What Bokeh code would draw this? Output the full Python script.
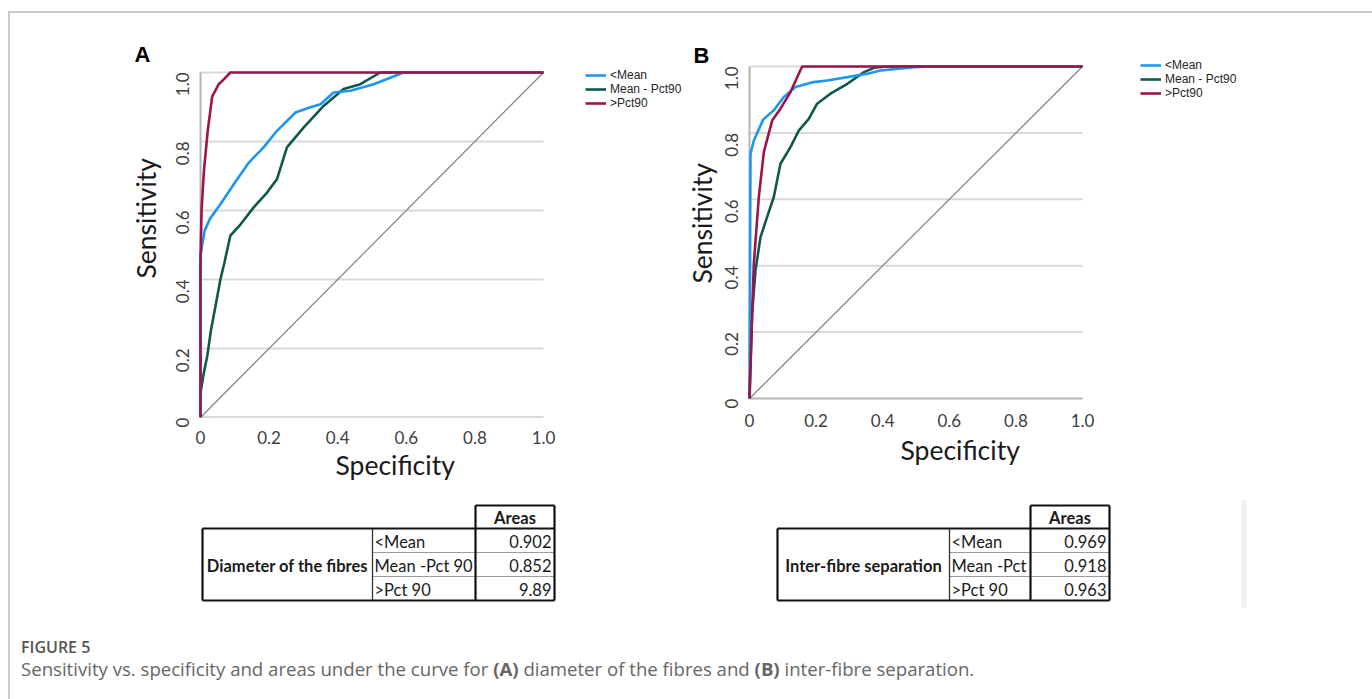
import math
from bokeh.plotting import figure
from bokeh.models import (Range1d, FixedTicker, Legend, LegendItem, Div, Title,
                          ColumnDataSource, CustomJSTickFormatter)
from bokeh.layouts import column, row
from bokeh.embed import file_html
from bokeh.resources import INLINE
from bokeh.core.properties import value

# ---------------- data ----------------
# Panel A : diameter of the fibres
a_mean_x = [0.0, 0.0, 0.012, 0.027, 0.058, 0.097, 0.141, 0.184, 0.223, 0.277, 0.32, 0.35, 0.388, 0.437, 0.505, 0.544, 0.592, 1.0]
a_mean_y = [0.0, 0.47, 0.541, 0.575, 0.618, 0.676, 0.739, 0.783, 0.831, 0.884, 0.899, 0.908, 0.942, 0.947, 0.966, 0.981, 1.0, 1.0]
a_mid_x = [0.0, 0.0, 0.008, 0.02, 0.03, 0.045, 0.058, 0.07, 0.087, 0.117, 0.155, 0.194, 0.223, 0.252, 0.301, 0.359, 0.417, 0.466, 0.524, 1.0]
a_mid_y = [0.0, 0.07, 0.12, 0.18, 0.25, 0.33, 0.40, 0.45, 0.527, 0.56, 0.609, 0.652, 0.691, 0.783, 0.841, 0.903, 0.952, 0.966, 1.0, 1.0]
a_high_x = [0.0, 0.0, 0.003, 0.01, 0.021, 0.034, 0.053, 0.068, 0.087, 1.0]
a_high_y = [0.0, 0.45, 0.6, 0.715, 0.83, 0.93, 0.966, 0.98, 1.0, 1.0]

# Panel B : inter-fibre separation
b_mean_x = [0.0, 0.003, 0.013, 0.041, 0.073, 0.103, 0.138, 0.193, 0.233, 0.294, 0.354, 0.394, 0.494, 0.545, 1.0]
b_mean_y = [0.0, 0.737, 0.777, 0.84, 0.868, 0.908, 0.938, 0.953, 0.958, 0.968, 0.978, 0.988, 0.998, 1.0, 1.0]
b_mid_x = [0.0, 0.008, 0.018, 0.033, 0.053, 0.073, 0.093, 0.123, 0.148, 0.178, 0.203, 0.243, 0.294, 0.344, 0.374, 0.414, 1.0]
b_mid_y = [0.0, 0.256, 0.386, 0.486, 0.547, 0.607, 0.707, 0.757, 0.807, 0.842, 0.888, 0.918, 0.948, 0.983, 0.996, 1.0, 1.0]
b_high_x = [0.0, 0.006, 0.013, 0.028, 0.043, 0.068, 0.093, 0.123, 0.158, 1.0]
b_high_y = [0.0, 0.2, 0.406, 0.607, 0.742, 0.837, 0.873, 0.923, 1.0, 1.0]

ref_x = [0.0, 1.0]
ref_y = [0.0, 1.0]

ticks = [0, 0.2, 0.4, 0.6, 0.8, 1.0]
legend_labels = ["<Mean", "Mean - Pct90", ">Pct90"]
series_colors = ["#1E96F0", "#10584C", "#9E134C"]
x_title = "Specificity"
y_title = "Sensitivity"

table_header = "Areas"
table_a_title = "Diameter of the fibres"
table_a_rows = ["<Mean", "Mean -Pct 90", ">Pct 90"]
table_a_values = ["0.902", "0.852", "9.89"]
table_b_title = "Inter-fibre separation"
table_b_rows = ["<Mean", "Mean -Pct", ">Pct 90"]
table_b_values = ["0.969", "0.918", "0.963"]

caption_title = "FIGURE 5"
caption_text = ("Sensitivity vs. specificity and areas under the curve for <b>(A)</b> "
                "diameter of the fibres and <b>(B)</b> inter-fibre separation.")

FONT = "Lato"
TOP_BORDER, BOTTOM_BORDER = 57, 73


def make_panel(width, left_border, xr, yr, curves, letter, cfg):
    p = figure(width=width, height=490, x_range=Range1d(*xr), y_range=Range1d(*yr),
               output_backend="svg", toolbar_location=None,
               min_border_left=left_border, min_border_right=0,
               min_border_top=TOP_BORDER, min_border_bottom=BOTTOM_BORDER)
    p.background_fill_alpha = 0
    p.border_fill_alpha = 0
    p.outline_line_color = None
    p.grid.visible = False
    fmt = CustomJSTickFormatter(code="return tick == 0 ? '0' : tick.toFixed(1);")
    for ax, st in ((p.xaxis, cfg["tick_x"]), (p.yaxis, cfg["tick_y"])):
        ax.ticker = FixedTicker(ticks=ticks)
        ax.formatter = fmt
        ax.axis_line_color = None
        ax.major_tick_line_color = None
        ax.minor_tick_line_color = None
        ax.major_label_text_font = FONT
        ax.major_label_text_font_size = "17px"
        ax.major_label_text_color = "#404040"
        ax.major_label_standoff = st
    p.yaxis.major_label_orientation = math.pi / 2

    # horizontal grid lines and axis lines over the unit square
    gy = ticks[1:]
    p.segment(x0=[0] * len(gy), y0=gy, x1=[1] * len(gy), y1=gy,
              line_color="#d9d9d9", line_width=2)
    p.segment(x0=[0, 0], y0=[0, 0], x1=[0, 1], y1=[1, 0], line_color="#b3b3b3", line_width=2)
    p.line(ref_x, ref_y, line_color="#808080", line_width=1.2)

    rends = {}
    for i in [1, 0, 2]:
        xs, ys = curves[i]
        rends[i] = p.line(xs, ys, line_color=series_colors[i], line_width=2.6)

    legend = Legend(items=[LegendItem(label=legend_labels[i], renderers=[rends[i]]) for i in range(3)],
                    location=cfg["legend"], label_text_font="Liberation Sans",
                    label_text_font_size="12px", label_text_color="#262626",
                    glyph_width=21, glyph_height=14, label_height=14, label_standoff=4,
                    spacing=0, padding=0, margin=0, border_line_color=None,
                    background_fill_alpha=0)
    p.add_layout(legend)

    # panel letter as the plot title
    p.title.text = letter
    p.title.align = "left"
    p.title.offset = cfg["letter"][0]
    p.title.standoff = cfg["letter"][1]
    p.title.text_font = "Liberation Sans"
    p.title.text_font_style = "bold"
    p.title.text_font_size = "22px"
    p.title.text_color = "#000000"

    off, st = cfg["ytitle"]
    p.add_layout(Title(text=y_title, align="left", offset=off, standoff=st,
                       text_font=FONT, text_font_style="normal", text_font_size="26.5px",
                       text_color="#1a1a1a"), "left")
    off, st = cfg["xtitle"]
    p.add_layout(Title(text=x_title, align="left", offset=off, standoff=st,
                       text_font=FONT, text_font_style="normal", text_font_size="26.5px",
                       text_color="#1a1a1a"), "below")
    return p


# A: x 0 at px 200, 343 px/unit; y 1.0 at px 72, 0 at px 417 (345 px/unit)
pA = make_panel(685, 198, (-2 / 343, 485 / 343), (0.0, 1 + 15 / 345),
                [(a_mean_x, a_mean_y), (a_mid_x, a_mid_y), (a_high_x, a_high_y)], "A",
                {"legend": (387, 307), "ytitle": (139, 9), "xtitle": (137, 1),
                 "letter": (-64, -19), "tick_x": 7, "tick_y": 10})
# B: x 0 at px 749, 333 px/unit; y 1.0 at px 66, 0 at px 398 (332 px/unit)
pB = make_panel(685, 62, (-2 / 333, 621 / 333), (-19 / 332, 1 + 9 / 332),
                [(b_mean_x, b_mean_y), (b_mid_x, b_mid_y), (b_high_x, b_high_y)], "B",
                {"legend": (393, 317), "ytitle": (134, -5), "xtitle": (153, 4),
                 "letter": (-54, -20), "tick_x": -10, "tick_y": 10})

# ---------------- tables ----------------
t = figure(width=1370, height=130, x_range=Range1d(0, 1370), y_range=Range1d(620, 490),
           output_backend="svg", toolbar_location=None, min_border=0,
           x_axis_location=None, y_axis_location=None)
t.grid.visible = False
t.outline_line_color = None
t.background_fill_alpha = 0
t.border_fill_alpha = 0

# faint vertical bar on the right of table B
t.quad(left=[1241], right=[1246], top=[500], bottom=[607], fill_color="#efefef", line_color=None)


def draw_table(p, x0, c1, c2, x1, title, rows, vals):
    htop, btop, rh = 505, 528, 24
    bbot = btop + 3 * rh
    seg = dict(x0=[], y0=[], x1=[], y1=[], w=[], c=[])

    def add(a, b, c, d, w, col):
        seg["x0"].append(a); seg["y0"].append(b); seg["x1"].append(c); seg["y1"].append(d)
        seg["w"].append(w); seg["c"].append(col)

    for k in (1, 2):
        add(c1, btop + k * rh, x1, btop + k * rh, 1.2, "#9a9a9a")
    add(c1, btop, c1, bbot, 1.3, "#333333")
    add(x0, btop, x1, btop, 2.2, "#111111")
    add(x0, bbot, x1, bbot, 2.2, "#111111")
    add(x0, btop, x0, bbot, 2.2, "#111111")
    add(x1, htop, x1, bbot, 2.2, "#111111")
    add(c2, htop, c2, bbot, 2.2, "#111111")
    add(c2, htop, x1, htop, 2.2, "#111111")
    p.segment(x0="x0", y0="y0", x1="x1", y1="y1", line_width="w", line_color="c",
              source=ColumnDataSource(seg))

    ys = [btop + rh * (k + 0.5) for k in range(3)]
    common = dict(text_baseline="middle", text_font=value(FONT), text_font_size="16.5px",
                  text_color="#1a1a1a")
    p.text(x=[(c2 + x1) / 2], y=[(htop + btop) / 2 + 1], text=[table_header], text_align="center",
           text_font_style="bold", **common)
    p.text(x=[(x0 + c1) / 2], y=[ys[1] + 1], text=[title], text_align="center",
           text_font_style="bold", **common)
    p.text(x=[c1 + 2] * 3, y=[y + 1 for y in ys], text=rows, text_align="left", **common)
    p.text(x=[x1 - 3] * 3, y=[y + 1 for y in ys], text=vals, text_align="right", **common)


draw_table(t, 202, 372, 475, 554, table_a_title, table_a_rows, table_a_values)
draw_table(t, 777, 949, 1030, 1109, table_b_title, table_b_rows, table_b_values)

# ---------------- caption ----------------
cap = Div(text=(
    '<div style="padding:12px 0 0 16px;font-family:\'Open Sans\',sans-serif;line-height:21px;">'
    f'<div style="font-weight:600;font-size:16px;color:#555555;">{caption_title}</div>'
    f'<div style="font-size:18.6px;color:#666666;">{caption_text}</div></div>'),
    width=1370, height=77)

shadow = ("inset 0 11px 0 #ffffff, inset 8px 0 0 #ffffff, inset 0 13px 0 #cccccc, "
          "inset 10px 0 0 #cccccc, inset -2px 0 0 #cccccc")
layout = column(row(pA, pB), t, cap, styles={"box-shadow": shadow, "background-color": "#ffffff"})

open("out.html", "w").write(file_html(layout, INLINE))
